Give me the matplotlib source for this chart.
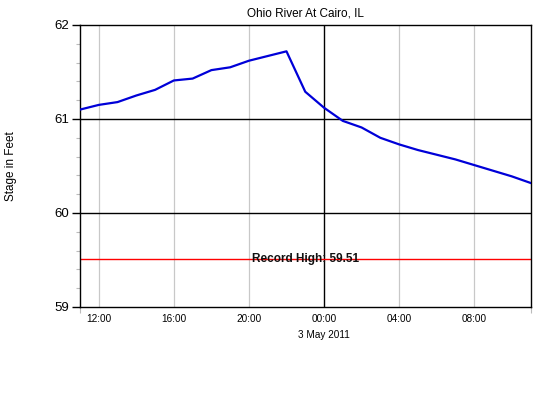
import matplotlib
matplotlib.use('agg')
import matplotlib.pyplot as plt
import matplotlib.dates as mdates
from matplotlib.ticker import MultipleLocator
import pandas as pd

plt.rcParams['font.family'] = ['Liberation Sans', 'DejaVu Sans']

# hourly stage readings, 2 May 2011 11:00 -> 3 May 2011 11:00
start = '2011-05-02 11:00'
stage = [61.10, 61.15, 61.18, 61.25, 61.31, 61.41, 61.43, 61.52, 61.55,
         61.62, 61.67, 61.72, 61.29, 61.12, 60.98, 60.91, 60.80, 60.73,
         60.67, 60.62, 60.57, 60.51, 60.45, 60.39, 60.32]
times = pd.date_range(start, periods=len(stage), freq='h')

record_high = 59.51
title = 'Ohio River At Cairo, IL'
ylabel = 'Stage in Feet'
date_label = '3 May 2011'

fig = plt.figure(figsize=(5.36, 3.95), dpi=100)
ax = fig.add_axes([80 / 536, 1 - 307 / 395, 450.5 / 536, 282 / 395])

ax.set_xlim(times[0], times[-1])
ax.set_ylim(59, 62)

# vertical grid: gray every 4h, black at midnight
for t in pd.date_range('2011-05-02 12:00', times[-1], freq='4h'):
    if t.hour == 0:
        ax.axvline(t, color='black', lw=1.0, zorder=1)
    else:
        ax.axvline(t, color='#c8c8c8', lw=0.9, zorder=1)
for y in (60, 61):
    ax.axhline(y, color='black', lw=1.0, zorder=1)

ax.axhline(record_high, color='#ff0000', lw=1.0, zorder=2)
ax.text(0.5, record_high, 'Record High: %.2f' % record_high, transform=ax.get_yaxis_transform(),
        ha='center', va='center', fontsize=8.5, fontweight='bold', color='#111111', zorder=3)

ax.plot(times, stage, color='#0000d8', lw=1.6, zorder=4)

ax.yaxis.set_major_locator(MultipleLocator(1))
ax.yaxis.set_minor_locator(MultipleLocator(0.2))
ax.tick_params(axis='y', which='major', length=6, width=1, labelsize=9.5, pad=2)
ax.tick_params(axis='y', which='minor', length=3, width=0.8, color='#bbbbbb')

ax.xaxis.set_major_locator(mdates.HourLocator(byhour=[0, 4, 8, 12, 16, 20]))
ax.xaxis.set_major_formatter(mdates.DateFormatter('%H:%M'))
ax.xaxis.set_minor_locator(mdates.HourLocator(byhour=[11]))
ax.tick_params(axis='x', which='major', length=0, labelsize=7.2, pad=5)
ax.tick_params(axis='x', which='minor', length=4, width=0.8, color='#bbbbbb')

for s in ax.spines.values():
    s.set_linewidth(1.0)

ax.set_title(title, fontsize=8.5, pad=6)
ax.set_ylabel(ylabel, fontsize=8.5, labelpad=27)
ax.text(pd.Timestamp('2011-05-03 00:00'), -0.08, date_label, transform=ax.get_xaxis_transform(),
        ha='center', va='top', fontsize=7.2)

fig.savefig('out.png', dpi=100, facecolor='white')
